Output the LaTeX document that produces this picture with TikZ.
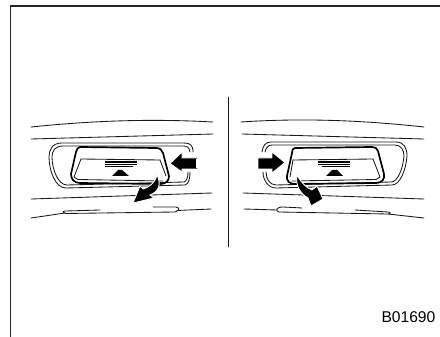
\documentclass[tikz,border=0pt]{standalone}
\usepackage{fontspec}
\setmainfont{Liberation Sans}
\tikzset{
  thin line/.style={line width=0.85pt,black!90,line cap=round,line join=round},
  heavy line/.style={line width=1.7pt,black,line join=round,line cap=round},
  arrow shape/.style={fill=black,draw=white,line width=0.9pt,line join=miter},
}
\begin{document}
\begin{tikzpicture}[x=1pt,y=-1pt]
\useasboundingbox (0,0) rectangle (440,337);
\draw[line width=1.2pt,black!85] (10.5,337) -- (10.5,6) -- (440,6);
\draw[thin line] (228,97) -- (228,247);
% LEFT PANEL
\draw[thin line] (31,127) .. controls (80,122) and (140,118) .. (213,122);
\draw[thin line] (31,139) -- (213,134);
\draw[thin line] (31,199) -- (212,193);
\draw[thin line] (31,218) -- (65,213) .. controls (62,212) and (63,211) .. (66,211) -- (100,210);
\draw[thin line] (65,213.5) -- (175,212) .. controls (180,210) and (180,208) .. (176,207) -- (153,207);
\draw[thin line] (177,210.5) -- (211,209);
% outer surround
\draw[thin line] (193,152) .. controls (193,145) and (190,143) .. (184,143) -- (62,143) .. controls (52,143) and (49,150) .. (49,157) .. controls (49,170) and (55,188) .. (66,188) -- (185,185) .. controls (189,184) and (190,178) .. (190,172);
\draw[thin line] (190,152) .. controls (189,147) and (187,146) .. (183,146) -- (63,146) .. controls (55,146) and (52,151) .. (52,157) .. controls (52,169) and (58,185) .. (67,185) -- (184,182) .. controls (187,181) and (188,177) .. (188,172);
% handle
\draw[heavy line] (80,147) -- (156,148) .. controls (160,148) and (162,150) .. (163,153) -- (169,176) .. controls (169,181) and (166,184) .. (160,184) -- (80,183) .. controls (74,183) and (71,179) .. (71,174) -- (76,152) .. controls (77,149) and (78,147) .. (80,147);
\draw[thin line] (81,159) -- (160,160);
\draw[thin line] (81,159) -- (74,177) -- (78,179.5) -- (163,181);
\draw[thin line] (160,160) -- (166,176);
\fill (105,161) rectangle (137,163);
\fill (105,164) rectangle (137,165.2);
\fill (105,166) rectangle (133,167);
\fill (112,176) -- (129,176) -- (122,170) -- (118,170) -- cycle;
% arrows
\draw[arrow shape] (197,158) -- (182,158) -- (182,152) -- (170,163.5) -- (182,172) -- (182,169) -- (197,169);
\fill[white] (196,159) rectangle (199,168);
\draw[arrow shape] (157,175) .. controls (155,183) and (148,188) .. (143,189) -- (140,186) -- (133,203) -- (154,198) -- (150,195) .. controls (158,192) and (162,185) .. (157,175);
% RIGHT PANEL
\draw[thin line] (241,122) .. controls (300,118) and (360,120) .. (424,127);
\draw[thin line] (242,134) -- (424,139);
\draw[thin line] (243,193) -- (424,199);
\draw[thin line] (244,209) -- (277,210);
\draw[thin line] (302,208) -- (283,207) .. controls (276,207) and (275,211) .. (279,212) -- (388,214) .. controls (391,214) and (391,212) .. (388,212) -- (355,210);
\draw[thin line] (388,214) -- (424,218);
% outer surround
\draw[thin line] (262,152) .. controls (263,146) and (265,142) .. (271,142) -- (396,142) .. controls (404,142) and (407,148) .. (407,156) .. controls (406,170) and (400,185) .. (392,185) -- (276,188) .. controls (268,188) and (263,180) .. (263,172);
\draw[thin line] (265,152) .. controls (266,148) and (268,145) .. (272,145) -- (395,145) .. controls (401,145) and (404,150) .. (404,156) .. controls (403,168) and (398,182) .. (391,182) -- (276,185) .. controls (270,185) and (266,179) .. (266,172);
% handle
\draw[heavy line] (295,148) -- (372,147) .. controls (375,147) and (377,148) .. (378,151) -- (384,174) .. controls (385,179) and (382,183) .. (376,183) -- (295,184) .. controls (290,184) and (286,181) .. (287,176) -- (292,153) .. controls (292,150) and (293,148) .. (295,148);
\draw[thin line] (293,160) -- (373,159);
\draw[thin line] (373,159) -- (380,177) -- (376,179.5) -- (292,181);
\draw[thin line] (293,160) -- (290,177);
\fill (318,161) rectangle (350,163);
\fill (318,164) rectangle (350,165.2);
\fill (322,166) rectangle (350,167);
\fill (326,176) -- (343,176) -- (337,170) -- (332,170) -- cycle;
% arrows
\draw[arrow shape] (258,158) -- (272,158) -- (272,152) -- (285,162.5) -- (272,173) -- (272,169) -- (258,169) -- cycle;
\draw[arrow shape] (297,175) .. controls (295,186) and (301,194) .. (308,198) -- (311,206) -- (323,199) -- (317,186) -- (312,190) .. controls (307,188) and (302,184) .. (297,175);
\node[anchor=base east,font=\fontsize{15.6}{18}\selectfont,inner sep=0pt] (code) at (435.5,323) {B01690};
\end{tikzpicture}
\end{document}
